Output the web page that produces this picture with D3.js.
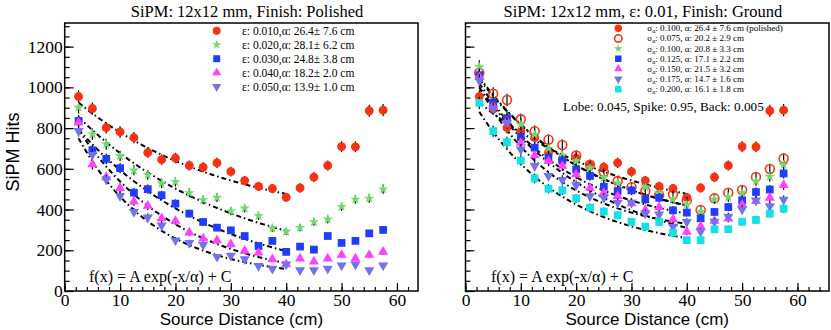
<!DOCTYPE html>
<html>
<head>
<meta charset="utf-8">
<script src="https://cdn.jsdelivr.net/npm/d3@7"></script>
<style>
  body { margin: 0; background: #fff; }
  svg { display: block; }
</style>
</head>
<body>
<svg id="chart"></svg>
<script>
// source distances (cm), shared by every series
const distances = [2.5, 5, 7.5, 10, 12.5, 15, 17.5, 20, 22.5, 25, 27.5, 30,
  32.5, 35, 37.5, 40, 42.5, 45, 47.5, 50, 52.5, 55, 57.5];

// polished finish, one series per epsilon
const hitsEps010 = [955, 896, 802, 781, 753, 680, 645, 653, 616, 608, 629, 586, 542, 514, 503, 460, 506, 559, 616, 709, 708, 885, 888];
const hitsEps020 = [901, 770, 721, 663, 593, 570, 529, 536, 482, 447, 459, 392, 406, 369, 308, 292, 311, 339, 352, 414, 450, 455, 500];
const hitsEps030 = [835, 691, 649, 603, 483, 500, 470, 429, 380, 339, 311, 298, 270, 221, 246, 192, 218, 203, 270, 236, 246, 283, 300];
const hitsEps040 = [827, 622, 558, 505, 439, 418, 357, 344, 287, 257, 249, 229, 197, 188, 156, 131, 159, 144, 159, 177, 159, 177, 192];
const hitsEps050 = [786, 670, 548, 467, 388, 361, 322, 249, 236, 226, 168, 174, 156, 123, 110, 131, 102, 102, 110, 126, 131, 102, 126];

const epsLabels = ['0.010', '0.020', '0.030', '0.040', '0.050'];
const epsAlpha = [26.4, 28.1, 24.8, 18.2, 13.9];
const epsAlphaErr = [7.6, 6.2, 3.8, 2.0, 1.0];
const epsFitA = [650, 829, 848, 861, 824];
const epsFitC = [334, 96, 27, 41, 62];

// ground finish, eps 0.01, one series per sigma_alpha (first = polished reference)
const hitsSig075 = [1072, 969, 938, 843, 785, 743, 717, 665, 620, 584, 540, 510, 490, 470, 475, 445, 398, 455, 483, 496, 560, 599, 651];
const hitsSig100 = [1100, 936, 859, 818, 769, 700, 665, 638, 605, 556, 530, 500, 511, 480, 450, 426, 390, 450, 460, 483, 540, 562, 620];
const hitsSig125 = [1060, 925, 848, 756, 704, 655, 641, 597, 565, 512, 491, 494, 450, 458, 396, 385, 357, 388, 412, 445, 486, 498, 577];
const hitsSig150 = [1050, 908, 835, 728, 666, 638, 614, 573, 507, 483, 466, 430, 398, 412, 352, 291, 316, 344, 355, 425, 442, 458, 520];
const hitsSig175 = [1034, 897, 826, 695, 614, 565, 545, 520, 466, 458, 434, 434, 381, 376, 316, 339, 291, 340, 365, 401, 445, 417, 448];
const hitsSig200 = [924, 785, 731, 641, 553, 502, 494, 455, 409, 390, 372, 340, 316, 339, 286, 250, 250, 303, 303, 340, 349, 380, 404];

const sigLabels = ['0.100', '0.075', '0.100', '0.125', '0.150', '0.175', '0.200'];
const sigAlpha = [26.4, 20.2, 20.8, 17.1, 21.5, 14.7, 16.1];
const sigAlphaErr = [7.6, 2.9, 3.3, 2.2, 3.2, 1.6, 1.8];
const sigFitA = [650, 845, 837, 834, 939, 861, 802];
const sigFitC = [334, 303, 298, 300, 164, 273, 193];

const width = 831;
const height = 330;
const serif = '"Liberation Serif", "Times New Roman", serif';
const sans = '"Liberation Sans", Arial, sans-serif';

const colors = {
  red: '#fa3214',
  green: '#6fd86f',
  blue: '#1f3cff',
  magenta: '#ff40ff',
  purple: '#7272ee',
  cyan: '#12e2e8',
};

const svg = d3.select('#chart')
  .attr('width', width)
  .attr('height', height);

const marker = (kind, scale = 1) => {
  const s = d3.symbol();
  if (kind === 'circle' || kind === 'open') return s.type(d3.symbolCircle).size(62 * scale)();
  if (kind === 'star') return s.type(d3.symbolStar).size(34 * scale)();
  if (kind === 'square') return s.type(d3.symbolSquare).size(60 * scale)();
  return s.type(d3.symbolTriangle).size(44 * scale)();
};

const markerRotation = kind => (kind === 'down' ? 180 : 0);

const drawMarker = (sel, d, scale) => {
  sel.attr('d', marker(d.kind, scale))
    .attr('fill', d.kind === 'open' ? 'none' : d.color)
    .attr('stroke', d.kind === 'open' ? d.color : 'none')
    .attr('stroke-width', d.kind === 'open' ? 1.6 : 0);
};

function drawPanel(cfg) {
  const { left, right, top, bottom, xMax, yMax, series, yLabels } = cfg;

  const x = d3.scaleLinear().domain([0, xMax]).range([left, right]);
  const y = d3.scaleLinear().domain([0, yMax]).range([bottom, top]);

  const g = svg.append('g');

  // minor ticks
  g.append('g')
    .attr('transform', `translate(0,${bottom})`)
    .call(d3.axisBottom(x).tickValues(d3.range(0, xMax, 2)).tickSize(-4).tickFormat(''))
    .call(a => a.select('.domain').remove());
  g.append('g')
    .attr('transform', `translate(${left},0)`)
    .call(d3.axisLeft(y).tickValues(d3.range(0, yMax, 50)).tickSize(-5).tickFormat(''))
    .call(a => a.select('.domain').remove());

  // major ticks + labels
  const xAxis = g.append('g')
    .attr('transform', `translate(0,${bottom})`)
    .call(d3.axisBottom(x).tickValues(d3.range(0, xMax, 10)).tickSize(-8).tickPadding(3));
  xAxis.select('.domain').remove();
  xAxis.attr('font-family', serif);
  xAxis.selectAll('text')
    .attr('font-family', serif)
    .attr('font-size', 17.5)
    .attr('fill', '#000');

  const yAxis = g.append('g')
    .attr('transform', `translate(${left},0)`)
    .call(d3.axisLeft(y).tickValues(d3.range(0, yMax, 200)).tickSize(-9).tickPadding(2)
      .tickFormat(yLabels ? d3.format('d') : ''));
  yAxis.select('.domain').remove();
  yAxis.attr('font-family', serif);
  yAxis.selectAll('text')
    .attr('font-family', serif)
    .attr('font-size', 17.5)
    .attr('fill', '#000');

  g.selectAll('.tick line').attr('stroke', '#000').attr('stroke-width', 1.2);

  // frame
  g.append('rect')
    .attr('x', left)
    .attr('y', top)
    .attr('width', right - left)
    .attr('height', bottom - top)
    .attr('fill', 'none')
    .attr('stroke', '#000')
    .attr('stroke-width', 1.5);

  // fits
  const fitLine = d3.line()
    .x(d => x(d[0]))
    .y(d => y(d[1]));
  const fitX = d3.range(2.5, 40.01, 0.25);

  g.selectAll('.fit')
    .data(series)
    .enter().append('path')
    .attr('class', 'fit')
    .attr('fill', 'none')
    .attr('stroke', '#000')
    .attr('stroke-width', 2)
    .attr('stroke-dasharray', '5 3 1.5 3')
    .attr('d', s => fitLine(fitX.map(v => [v, s.fitA * Math.exp(-v / s.alpha) + s.fitC])));

  // points with error bars
  series.forEach(s => {
    const pts = distances.map((d, i) => ({ d, v: s.values[i], kind: s.kind, color: s.color }));
    const pg = g.append('g');
    pg.selectAll('line')
      .data(pts)
      .enter().append('line')
      .attr('x1', p => x(p.d))
      .attr('x2', p => x(p.d))
      .attr('y1', p => y(p.v - Math.sqrt(p.v)))
      .attr('y2', p => y(p.v + Math.sqrt(p.v)))
      .attr('stroke', '#000')
      .attr('stroke-width', 1.2);
    pg.selectAll('path')
      .data(pts)
      .enter().append('path')
      .attr('transform', p => `translate(${x(p.d)},${y(p.v)}) rotate(${markerRotation(p.kind)})`)
      .each(function (p) { drawMarker(d3.select(this), p, 1); });
  });

  // axis title
  g.append('text')
    .attr('font-family', sans)
    .attr('x', (left + right) / 2)
    .attr('y', 325)
    .attr('text-anchor', 'middle')
    .attr('font-size', 17)
    .text('Source Distance (cm)');

  return { x, y, g };
}

// ---- left panel ----
const leftSeries = [hitsEps010, hitsEps020, hitsEps030, hitsEps040, hitsEps050].map((values, i) => ({
  values,
  kind: ['circle', 'star', 'square', 'up', 'down'][i],
  color: [colors.red, colors.green, colors.blue, colors.magenta, colors.purple][i],
  alpha: epsAlpha[i],
  fitA: epsFitA[i],
  fitC: epsFitC[i],
}));

drawPanel({
  left: 64.7, right: 418, top: 23, bottom: 291,
  xMax: 63.8, yMax: 1316,
  series: leftSeries,
  yLabels: true,
});

// ---- right panel ----
const rightSeries = [hitsEps010, hitsSig075, hitsSig100, hitsSig125, hitsSig150, hitsSig175, hitsSig200].map((values, i) => ({
  values,
  kind: ['circle', 'open', 'star', 'square', 'up', 'down', 'square'][i],
  color: [colors.red, colors.red, colors.green, colors.blue, colors.magenta, colors.purple, colors.cyan][i],
  alpha: sigAlpha[i],
  fitA: sigFitA[i],
  fitC: sigFitC[i],
}));

drawPanel({
  left: 465.5, right: 829, top: 23, bottom: 291,
  xMax: 65.7, yMax: 1316,
  series: rightSeries,
  yLabels: false,
});

// titles
svg.append('text')
  .attr('font-family', serif)
  .attr('x', 247).attr('y', 17)
  .attr('text-anchor', 'middle')
  .attr('font-size', 16.5)
  .text('SiPM: 12x12 mm, Finish: Polished');

svg.append('text')
  .attr('font-family', serif)
  .attr('x', 643).attr('y', 17)
  .attr('text-anchor', 'middle')
  .attr('font-size', 16.5)
  .text('SiPM: 12x12 mm, ε: 0.01, Finish: Ground');

svg.append('text')
  .attr('font-family', sans)
  .attr('transform', 'translate(19,152) rotate(-90)')
  .attr('text-anchor', 'middle')
  .attr('font-size', 18)
  .text('SiPM Hits');

// fit formula
[89, 491].forEach(px => {
  svg.append('text')
    .attr('font-family', serif)
    .attr('x', px).attr('y', 282)
    .attr('font-size', 16)
    .text('f(x) = A exp(-x/α) + C');
});

svg.append('text')
  .attr('font-family', serif)
  .attr('x', 563).attr('y', 111)
  .attr('font-size', 13.2)
  .text('Lobe: 0.045, Spike: 0.95, Back: 0.005');

// left legend
const legL = svg.append('g');
leftSeries.forEach((s, i) => {
  const yy = 30.7 + i * 14;
  legL.append('path')
    .attr('transform', `translate(216.7,${yy}) rotate(${markerRotation(s.kind)})`)
    .call(sel => drawMarker(sel, s, 0.8));
  legL.append('text')
    .attr('font-family', serif)
    .attr('x', 242).attr('y', yy + 4)
    .attr('font-size', 11.5)
    .text(`ε: ${epsLabels[i]},α: ${epsAlpha[i].toFixed(1)}± ${epsAlphaErr[i].toFixed(1)} cm`);
});

// right legend
const legR = svg.append('g');
rightSeries.forEach((s, i) => {
  const yy = 28.3 + i * 10.15;
  legR.append('path')
    .attr('transform', `translate(618.3,${yy}) rotate(${markerRotation(s.kind)})`)
    .call(sel => drawMarker(sel, s, 0.7));
  const t = legR.append('text')
    .attr('font-family', serif)
    .attr('x', 647.3).attr('y', yy + 3)
    .attr('font-size', 9);
  t.append('tspan').text('σ');
  t.append('tspan').attr('font-size', 6).attr('dy', 2).text('α');
  t.append('tspan').attr('dy', -2)
    .text(`: ${sigLabels[i]}, α: ${sigAlpha[i].toFixed(1)} ± ${sigAlphaErr[i].toFixed(1)} cm${i === 0 ? ' (polished)' : ''}`);
});
</script>
</body>
</html>
